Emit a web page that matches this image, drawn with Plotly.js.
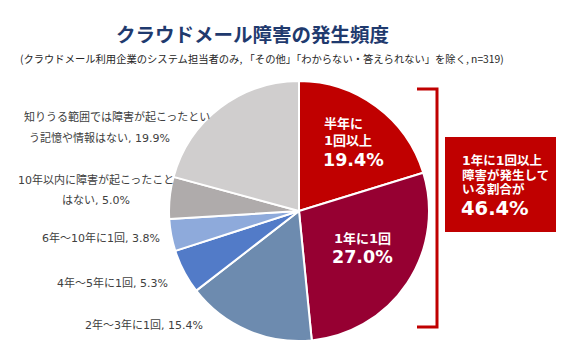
<!DOCTYPE html>
<html><head><meta charset="utf-8">
<script src="https://cdn.plot.ly/plotly-3.0.1.min.js"></script>
<style>html,body{margin:0;padding:0;background:#fff}#chart{width:570px;height:363px}</style>
</head><body><div id="chart"></div>
<script>
// ---- data ----
const categories = ['半年に1回以上','1年に1回','2年～3年に1回','4年～5年に1回','6年～10年に1回','10年以内に障害が起こったことはない','知りうる範囲では障害が起こったという記憶や情報はない'];
const values = [19.4, 27.0, 15.4, 5.3, 3.8, 5.0, 19.9];
const colors = ['#C00000','#960032','#6D8BAF','#527BC8','#8EAADB','#AFABAB','#D0CECE'];
const titleText = 'クラウドメール障害の発生頻度';
const subtitleText = '(クラウドメール利用企業のシステム担当者のみ, 「その他」「わからない・答えられない」を除く, n=319)';
const boxLines = ['1年に1回以上','障害が発生して','いる割合が'];
const boxValue = values[0] + values[1];

const W = 570, H = 363;
const px = x => x / W, py = y => 1 - y / H;
const cjk = 'DejaVu Sans, "Noto Sans CJK JP", sans-serif';
const fmt = v => v.toFixed(1) + '%';

const annotations = [];
function ann(text, x, y, opt) {
  annotations.push(Object.assign({text, x: px(x), y: py(y), xref:'paper', yref:'paper',
    showarrow:false, xanchor:'center', yanchor:'middle',
    font:{family:cjk, size:11, color:'#404040'}}, opt || {}));
}
// title
ann(titleText, 252, 33, {font:{family:'"Noto Sans CJK JP", sans-serif', size:19.5, color:'#1F3A6E', weight:'bold'}});
ann(subtitleText, 262, 59, {font:{family:'"Noto Sans CJK JP", sans-serif', size:10.3, color:'#262626'}});

// outside labels (split into lines)
const l7 = categories[6] + ', ' + fmt(values[6]);
ann(l7.slice(0, 17), 22, 117, {xanchor:'left'});
ann(l7.slice(17), 27, 138, {xanchor:'left'});
const l6 = categories[5] + ', ' + fmt(values[5]);
ann(l6.slice(0, 15), 96, 180);
ann(l6.slice(15), 96, 200);
ann(categories[4] + ', ' + fmt(values[4]), 101, 238);
ann(categories[3] + ', ' + fmt(values[3]), 112, 283);
ann(categories[2] + ', ' + fmt(values[2]), 144, 325);

// inside labels
const wB = (s) => ({family:cjk, size:s, color:'#ffffff', weight:'bold'});
ann(categories[0].slice(0,3), 322, 123, {xanchor:'left', font:wB(13)});
ann(categories[0].slice(3), 322, 140, {xanchor:'left', font:wB(13)});
ann(fmt(values[0]), 321, 160, {xanchor:'left', font:wB(17.5)});
ann(categories[1], 332, 238, {xanchor:'left', font:wB(13)});
ann(fmt(values[1]), 330, 257, {xanchor:'left', font:wB(17.5)});

// box labels
ann(boxLines[0], 460, 160, {xanchor:'left', font:wB(12.5)});
ann(boxLines[1], 460, 175, {xanchor:'left', font:wB(12.5)});
ann(boxLines[2], 460, 190, {xanchor:'left', font:wB(12.5)});
ann(fmt(boxValue), 459, 208, {xanchor:'left', font:wB(19.5)});

const shapes = [
  {type:'rect', xref:'paper', yref:'paper', x0:px(445), x1:px(556), y0:py(232), y1:py(137),
   fillcolor:'#C00000', line:{width:0}, layer:'below'},
  {type:'path', xref:'paper', yref:'paper',
   path:`M ${px(417)} ${py(89)} L ${px(437)} ${py(89)} L ${px(437)} ${py(327)} L ${px(417)} ${py(327)}`,
   line:{color:'#C00000', width:3}}
];

const R = 130, cx = 299, cy = 211;
const trace = {
  type:'pie', labels:categories, values:values, sort:false, direction:'clockwise', rotation:0,
  marker:{colors:colors, line:{color:'#ffffff', width:2}},
  textinfo:'none', hoverinfo:'none',
  domain:{x:[px(cx-R), px(cx+R)], y:[py(cy+R), py(cy-R)]}
};
const layout = {
  width:W, height:H, margin:{l:0,r:0,t:0,b:0}, showlegend:false,
  paper_bgcolor:'#ffffff', plot_bgcolor:'#ffffff',
  annotations, shapes
};
Plotly.newPlot('chart', [trace], layout, {displayModeBar:false, staticPlot:true});
</script></body></html>
